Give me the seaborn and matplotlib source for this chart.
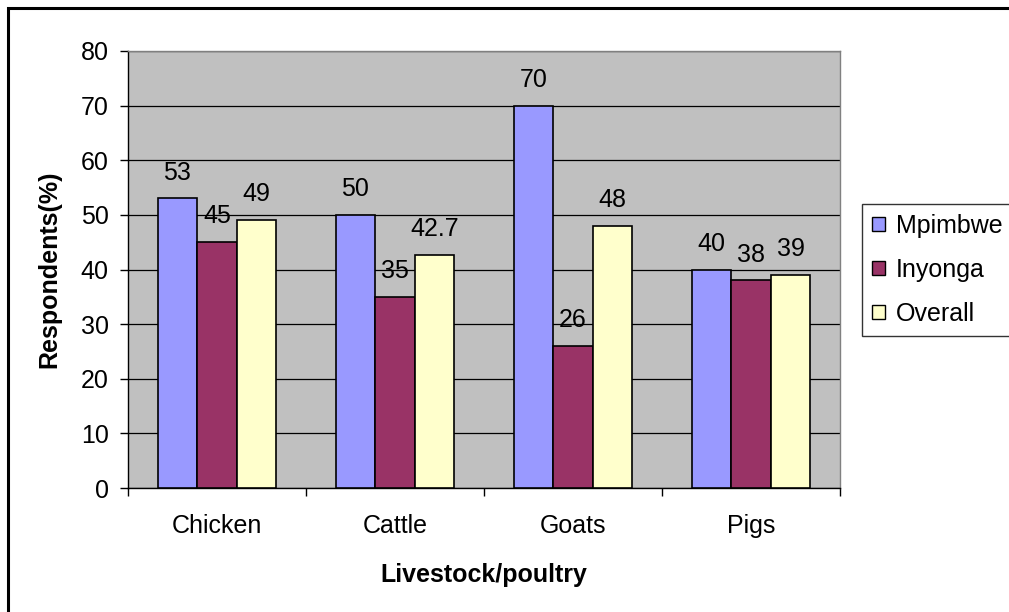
import matplotlib
matplotlib.use("Agg")
import matplotlib.pyplot as plt
from matplotlib.patches import Patch, Rectangle
from matplotlib.ticker import FixedLocator, MultipleLocator
import seaborn as sns
import pandas as pd

categories = ["Chicken", "Cattle", "Goats", "Pigs"]
series = ["Mpimbwe", "Inyonga", "Overall"]
mpimbwe = [53, 50, 70, 40]
inyonga = [45, 35, 26, 38]
overall = [49, 42.7, 48, 39]
colors = ["#9999FF", "#993366", "#FFFFCC"]

df = pd.DataFrame({
    "Livestock": categories * 3,
    "Site": [s for s in series for _ in categories],
    "Value": mpimbwe + inyonga + overall,
})

sns.set_theme(style="white")
plt.rcParams["font.family"] = ["Liberation Sans", "DejaVu Sans"]
plt.rcParams.update({"text.color": "black", "axes.labelcolor": "black",
                     "xtick.color": "black", "ytick.color": "black"})
FS = 18

fig = plt.figure(figsize=(10.09, 6.12), dpi=100)
ax = fig.add_axes([128 / 1009, 124 / 612, 712 / 1009, 437 / 612])
ax.set_facecolor("#C0C0C0")

sns.barplot(data=df, x="Livestock", y="Value", hue="Site", order=categories,
            hue_order=series, palette=colors, width=0.667, gap=0,
            edgecolor="black", linewidth=1.2, saturation=1, ax=ax, zorder=3)

for cont, vals in zip(ax.containers, [mpimbwe, inyonga, overall]):
    ax.bar_label(cont, labels=[f"{v:g}" for v in vals], padding=10,
                 fontsize=FS, color="black")

ax.set_ylim(0, 80)
ax.set_xlim(-0.5, 3.5)
ax.yaxis.set_major_locator(MultipleLocator(10))
ax.grid(axis="y", color="black", linewidth=0.9, zorder=0)
ax.set_axisbelow(True)

ax.xaxis.set_minor_locator(FixedLocator([-0.5, 0.5, 1.5, 2.5, 3.5]))
ax.tick_params(axis="x", which="major", length=0, pad=19, labelsize=FS,
               labelcolor="black")
ax.tick_params(axis="x", which="minor", length=6, width=1, direction="out",
               color="black", bottom=True)
ax.tick_params(axis="y", length=6, width=1, direction="out", color="black",
               left=True, pad=8, labelsize=FS, labelcolor="black")

for side in ["top", "right"]:
    ax.spines[side].set_color("#808080")
    ax.spines[side].set_linewidth(1)
for side in ["left", "bottom"]:
    ax.spines[side].set_color("black")
    ax.spines[side].set_linewidth(1)

ax.set_xlabel("Livestock/poultry", fontsize=FS, fontweight="bold", labelpad=18,
              color="black")
ax.set_ylabel("Respondents(%)", fontsize=FS, fontweight="bold", labelpad=14,
              color="black")

ax.get_legend().remove()
handles = [Patch(facecolor=c, edgecolor="black", linewidth=1) for c in colors]
leg = fig.legend(handles, series, loc="upper left",
                 bbox_to_anchor=(862 / 1009, 1 - 204 / 612),
                 fontsize=FS, frameon=True, fancybox=False, shadow=False,
                 handlelength=0.5, handleheight=0.5, handletextpad=0.45,
                 labelspacing=0.8, borderpad=0.4, borderaxespad=0)
leg.get_frame().set_edgecolor("black")
leg.get_frame().set_linewidth(1)
for t in leg.get_texts():
    t.set_color("black")

# outer chart frame
fig.patches.append(Rectangle((8 / 1009, -0.1), 1.2, 1.1 - 8 / 612,
                             transform=fig.transFigure, fill=False,
                             edgecolor="black", linewidth=2.2))

fig.savefig("out.png", dpi=100)
